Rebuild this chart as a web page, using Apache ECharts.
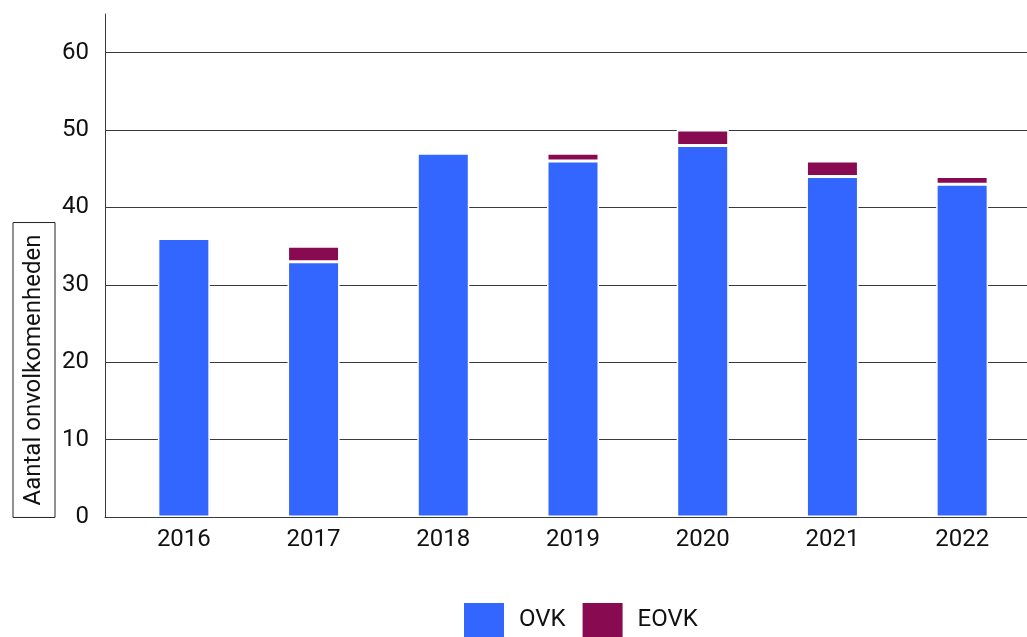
<!DOCTYPE html>
<html>
<head>
<meta charset="utf-8">
<script src="https://cdn.jsdelivr.net/npm/echarts@6/dist/echarts.min.js"></script>
<style>
  html, body { margin: 0; padding: 0; background: #fff; }
  #chart { width: 1027px; height: 637px; }
</style>
</head>
<body>
<div id="chart"></div>
<script>
  const years = ['2016', '2017', '2018', '2019', '2020', '2021', '2022']
  const ovk = [36, 33, 47, 46, 48, 44, 43]
  const eovk = [0, 2, 0, 1, 2, 2, 1]
  const yTicks = { min: 0, max: 65, interval: 10 }

  const font = 'Roboto, sans-serif'
  const lineColor = '#3a3a3a'

  const chart = echarts.init(document.getElementById('chart'), null, { renderer: 'canvas' })

  const option = {
    animation: false,
    textStyle: { fontFamily: font },
    // grid 0: axis frame + gridlines, grid 1: the bars (shifted like the original)
    grid: [
      { left: 105, right: 0, top: 14, bottom: 120 },
      { left: 119, right: -1, top: 14, bottom: 120 }
    ],
    xAxis: [
      {
        gridIndex: 0,
        type: 'value',
        min: 0,
        max: 1,
        axisLine: { show: true, lineStyle: { color: lineColor, width: 1 } },
        axisTick: { show: false },
        axisLabel: { show: false },
        splitLine: { show: false }
      },
      {
        gridIndex: 1,
        type: 'category',
        data: years,
        axisLine: { show: false },
        axisTick: { show: false },
        axisLabel: { color: '#111', fontSize: 24, margin: 11, fontFamily: font },
        splitLine: { show: false }
      }
    ],
    yAxis: [
      {
        gridIndex: 0,
        type: 'value',
        min: yTicks.min,
        max: yTicks.max,
        interval: yTicks.interval,
        axisLine: { show: true, lineStyle: { color: lineColor, width: 1 } },
        axisTick: { show: false },
        axisLabel: { color: '#111', fontSize: 24, margin: 16, showMaxLabel: false, fontFamily: font },
        splitLine: { show: true, showMaxLine: false, lineStyle: { color: lineColor, width: 1 } }
      },
      {
        gridIndex: 1,
        type: 'value',
        min: yTicks.min,
        max: yTicks.max,
        interval: yTicks.interval,
        axisLine: { show: false },
        axisTick: { show: false },
        axisLabel: { show: false },
        splitLine: { show: false }
      }
    ],
    legend: {
      data: ['OVK', 'EOVK'],
      left: 464,
      top: 603,
      padding: 0,
      icon: 'rect',
      itemWidth: 40,
      itemHeight: 34,
      itemGap: 17,
      itemStyle: { borderWidth: 0 },
      textStyle: { color: '#111', fontSize: 24, padding: [0, 0, 0, 10], fontFamily: font }
    },
    graphic: [
      {
        type: 'text',
        x: 34,
        y: 370,
        rotation: Math.PI / 2,
        style: {
          text: 'Aantal onvolkomenheden',
          font: '24px ' + font,
          fill: '#111',
          align: 'center',
          verticalAlign: 'middle',
          borderColor: '#222',
          borderWidth: 1,
          padding: [9, 12, 9, 12]
        }
      }
    ],
    series: [
      {
        name: 'OVK',
        type: 'bar',
        stack: 'total',
        xAxisIndex: 1,
        yAxisIndex: 1,
        barWidth: 52,
        itemStyle: { color: '#3366ff', borderColor: '#fff', borderWidth: 1.5 },
        data: ovk
      },
      {
        name: 'EOVK',
        type: 'bar',
        stack: 'total',
        xAxisIndex: 1,
        yAxisIndex: 1,
        barWidth: 52,
        itemStyle: { color: '#880a50', borderColor: '#fff', borderWidth: 1.5 },
        data: eovk
      }
    ]
  }

  chart.setOption(option)
  window.addEventListener('resize', () => {
    chart.resize()
  })
</script>
</body>
</html>
